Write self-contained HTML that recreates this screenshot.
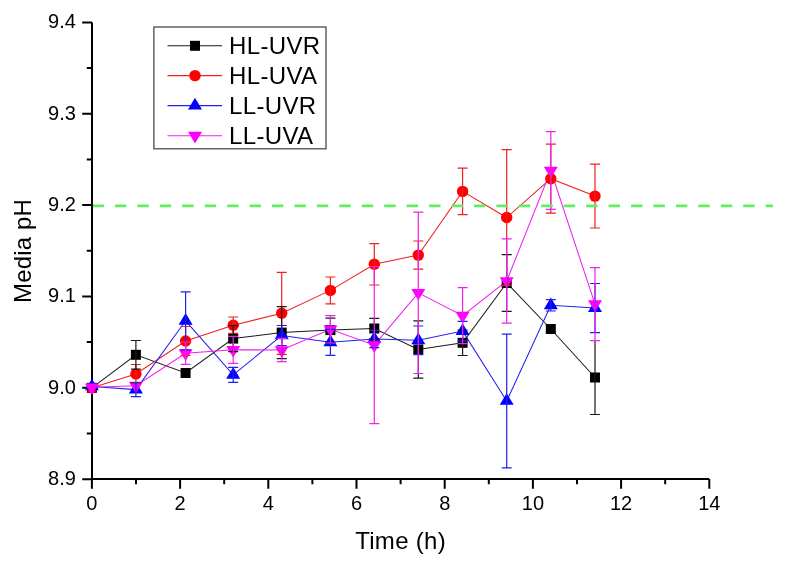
<!DOCTYPE html>
<html><head><meta charset="utf-8"><style>html,body{margin:0;padding:0;background:#fff;}svg{display:block;will-change:transform;font-family:"Liberation Sans",sans-serif;}</style></head>
<body><svg width="787" height="568" viewBox="0 0 787 568" font-family="Liberation Sans, sans-serif" font-size="20">
<rect width="787" height="568" fill="#fff"/>
<path d="M92.0 22.4V479.0H709.3" fill="none" stroke="#000" stroke-width="2" stroke-linejoin="round"/><path d="M82.2 22.4H92.0M86.8 68.1H92.0M82.2 113.8H92.0M86.8 159.4H92.0M82.2 205.1H92.0M86.8 250.8H92.0M82.2 296.5H92.0M86.8 342.1H92.0M82.2 387.8H92.0M86.8 433.5H92.0M82.2 479.2H92.0M91.9 479.0V488.8M136.0 479.0V484.2M180.1 479.0V488.8M224.2 479.0V484.2M268.3 479.0V488.8M312.4 479.0V484.2M356.5 479.0V488.8M400.6 479.0V484.2M444.7 479.0V488.8M488.8 479.0V484.2M532.9 479.0V488.8M577.0 479.0V484.2M621.1 479.0V488.8M665.2 479.0V484.2M709.3 479.0V488.8" fill="none" stroke="#000" stroke-width="2"/>
<polyline points="91.9,387.8 135.9,354.8 185.6,373.0 233.2,338.6 281.7,332.6 330.4,330.1 374.3,328.5 418.3,349.5 462.6,342.8 506.7,283.0 550.8,329.0 595.0,377.5" fill="none" stroke="#1a1a1a" stroke-width="1.05"/><polyline points="91.9,387.8 135.9,374.0 185.6,341.0 233.2,325.2 281.7,313.3 330.4,290.4 374.3,264.3 418.3,255.1 462.6,191.4 506.7,217.5 550.8,178.7 595.0,196.1" fill="none" stroke="#f02020" stroke-width="1.05"/><polyline points="91.9,386.5 135.9,389.6 185.6,320.8 233.2,374.8 281.7,335.5 330.4,342.3 374.3,339.0 418.3,340.3 462.6,331.1 506.7,401.0 550.8,305.3 595.0,308.1" fill="none" stroke="#2020f0" stroke-width="1.05"/><polyline points="91.9,387.3 135.9,385.7 185.6,353.2 233.2,349.8 281.7,350.0 330.4,329.3 374.3,345.2 418.3,292.8 462.6,315.7 506.7,281.0 550.8,170.5 595.0,304.1" fill="none" stroke="#f020f0" stroke-width="1.05"/>
<rect x="86.90" y="382.80" width="10" height="10" fill="#000000"/><rect x="130.90" y="349.80" width="10" height="10" fill="#000000"/><rect x="180.60" y="368.00" width="10" height="10" fill="#000000"/><rect x="228.20" y="333.60" width="10" height="10" fill="#000000"/><rect x="276.70" y="327.60" width="10" height="10" fill="#000000"/><rect x="325.40" y="325.10" width="10" height="10" fill="#000000"/><rect x="369.30" y="323.50" width="10" height="10" fill="#000000"/><rect x="413.30" y="344.50" width="10" height="10" fill="#000000"/><rect x="457.60" y="337.80" width="10" height="10" fill="#000000"/><rect x="501.70" y="278.00" width="10" height="10" fill="#000000"/><rect x="545.80" y="324.00" width="10" height="10" fill="#000000"/><rect x="590.00" y="372.50" width="10" height="10" fill="#000000"/><circle cx="91.90" cy="387.80" r="5.7" fill="#ff0000"/><circle cx="135.90" cy="374.00" r="5.7" fill="#ff0000"/><circle cx="185.60" cy="341.00" r="5.7" fill="#ff0000"/><circle cx="233.20" cy="325.20" r="5.7" fill="#ff0000"/><circle cx="281.70" cy="313.30" r="5.7" fill="#ff0000"/><circle cx="330.40" cy="290.40" r="5.7" fill="#ff0000"/><circle cx="374.30" cy="264.30" r="5.7" fill="#ff0000"/><circle cx="418.30" cy="255.10" r="5.7" fill="#ff0000"/><circle cx="462.60" cy="191.40" r="5.7" fill="#ff0000"/><circle cx="506.70" cy="217.50" r="5.7" fill="#ff0000"/><circle cx="550.80" cy="178.70" r="5.7" fill="#ff0000"/><circle cx="595.00" cy="196.10" r="5.7" fill="#ff0000"/><path d="M91.90 378.77L98.90 390.37L84.90 390.37Z" fill="#0000ff"/><path d="M135.90 381.87L142.90 393.47L128.90 393.47Z" fill="#0000ff"/><path d="M185.60 313.07L192.60 324.67L178.60 324.67Z" fill="#0000ff"/><path d="M233.20 367.07L240.20 378.67L226.20 378.67Z" fill="#0000ff"/><path d="M281.70 327.77L288.70 339.37L274.70 339.37Z" fill="#0000ff"/><path d="M330.40 334.57L337.40 346.17L323.40 346.17Z" fill="#0000ff"/><path d="M374.30 331.27L381.30 342.87L367.30 342.87Z" fill="#0000ff"/><path d="M418.30 332.57L425.30 344.17L411.30 344.17Z" fill="#0000ff"/><path d="M462.60 323.37L469.60 334.97L455.60 334.97Z" fill="#0000ff"/><path d="M506.70 393.27L513.70 404.87L499.70 404.87Z" fill="#0000ff"/><path d="M550.80 297.57L557.80 309.17L543.80 309.17Z" fill="#0000ff"/><path d="M595.00 300.37L602.00 311.97L588.00 311.97Z" fill="#0000ff"/><path d="M84.90 383.43L98.90 383.43L91.90 395.03Z" fill="#ff00ff"/><path d="M128.90 381.83L142.90 381.83L135.90 393.43Z" fill="#ff00ff"/><path d="M178.60 349.33L192.60 349.33L185.60 360.93Z" fill="#ff00ff"/><path d="M226.20 345.93L240.20 345.93L233.20 357.53Z" fill="#ff00ff"/><path d="M274.70 346.13L288.70 346.13L281.70 357.73Z" fill="#ff00ff"/><path d="M323.40 325.43L337.40 325.43L330.40 337.03Z" fill="#ff00ff"/><path d="M367.30 341.33L381.30 341.33L374.30 352.93Z" fill="#ff00ff"/><path d="M411.30 288.93L425.30 288.93L418.30 300.53Z" fill="#ff00ff"/><path d="M455.60 311.83L469.60 311.83L462.60 323.43Z" fill="#ff00ff"/><path d="M499.70 277.13L513.70 277.13L506.70 288.73Z" fill="#ff00ff"/><path d="M543.80 166.63L557.80 166.63L550.80 178.23Z" fill="#ff00ff"/><path d="M588.00 300.23L602.00 300.23L595.00 311.83Z" fill="#ff00ff"/>
<path d="M135.9 364.5V383.5M130.9 364.5h10M130.9 383.5h10M185.6 326.5V355.5M180.6 326.5h10M180.6 355.5h10M233.2 317.0V333.4M228.2 317.0h10M228.2 333.4h10M281.7 272.3V354.3M276.7 272.3h10M276.7 354.3h10M330.4 277.0V303.8M325.4 277.0h10M325.4 303.8h10M374.3 243.6V285.0M369.3 243.6h10M369.3 285.0h10M418.3 241.0V269.2M413.3 241.0h10M413.3 269.2h10M462.6 168.2V214.6M457.6 168.2h10M457.6 214.6h10M506.7 149.7V285.3M501.7 149.7h10M501.7 285.3h10M550.8 144.2V213.2M545.8 144.2h10M545.8 213.2h10M595.0 164.2V228.0M590.0 164.2h10M590.0 228.0h10" fill="none" stroke="#f02020" stroke-width="1.2"/><path d="M135.9 340.5V369.1M130.9 340.5h10M130.9 369.1h10M233.2 325.6V351.6M228.2 325.6h10M228.2 351.6h10M281.7 306.6V358.6M276.7 306.6h10M276.7 358.6h10M330.4 318.1V342.1M325.4 318.1h10M325.4 342.1h10M374.3 318.4V338.6M369.3 318.4h10M369.3 338.6h10M418.3 320.8V378.2M413.3 320.8h10M413.3 378.2h10M462.6 330.1V355.5M457.6 330.1h10M457.6 355.5h10M506.7 254.7V311.4M501.7 254.7h10M501.7 311.4h10M595.0 340.5V414.5M590.0 340.5h10M590.0 414.5h10" fill="none" stroke="#1a1a1a" stroke-width="1.2"/><path d="M135.9 382.6V396.6M130.9 382.6h10M130.9 396.6h10M185.6 291.8V349.8M180.6 291.8h10M180.6 349.8h10M233.2 367.3V382.3M228.2 367.3h10M228.2 382.3h10M281.7 325.5V345.5M276.7 325.5h10M276.7 345.5h10M330.4 329.3V355.3M325.4 329.3h10M325.4 355.3h10M374.3 330.4V347.6M369.3 330.4h10M369.3 347.6h10M418.3 326.0V354.6M413.3 326.0h10M413.3 354.6h10M462.6 321.4V340.8M457.6 321.4h10M457.6 340.8h10M506.7 334.1V467.9M501.7 334.1h10M501.7 467.9h10M550.8 299.6V311.0M545.8 299.6h10M545.8 311.0h10M595.0 283.5V332.7M590.0 283.5h10M590.0 332.7h10" fill="none" stroke="#2020f0" stroke-width="1.2"/><path d="M185.6 342.0V364.4M180.6 342.0h10M180.6 364.4h10M233.2 336.3V363.3M228.2 336.3h10M228.2 363.3h10M281.7 338.3V361.7M276.7 338.3h10M276.7 361.7h10M330.4 315.6V343.0M325.4 315.6h10M325.4 343.0h10M374.3 266.7V423.7M369.3 266.7h10M369.3 423.7h10M418.3 212.1V373.5M413.3 212.1h10M413.3 373.5h10M462.6 287.7V343.7M457.6 287.7h10M457.6 343.7h10M506.7 238.8V323.2M501.7 238.8h10M501.7 323.2h10M550.8 131.7V209.3M545.8 131.7h10M545.8 209.3h10M595.0 267.6V340.6M590.0 267.6h10M590.0 340.6h10" fill="none" stroke="#f020f0" stroke-width="1.2"/>
<path d="M93 205.9H773" stroke="#62ee62" stroke-width="2.6" stroke-dasharray="11.4 11.04" stroke-dashoffset="0.5" fill="none"/>
<text x="75.9" y="28.3" text-anchor="end">9.4</text><text x="75.9" y="119.7" text-anchor="end">9.3</text><text x="75.9" y="211.0" text-anchor="end">9.2</text><text x="75.9" y="302.4" text-anchor="end">9.1</text><text x="75.9" y="393.7" text-anchor="end">9.0</text><text x="75.9" y="485.1" text-anchor="end">8.9</text><text x="91.9" y="510.0" text-anchor="middle">0</text><text x="180.1" y="510.0" text-anchor="middle">2</text><text x="268.3" y="510.0" text-anchor="middle">4</text><text x="356.5" y="510.0" text-anchor="middle">6</text><text x="444.7" y="510.0" text-anchor="middle">8</text><text x="532.9" y="510.0" text-anchor="middle">10</text><text x="621.1" y="510.0" text-anchor="middle">12</text><text x="709.3" y="510.0" text-anchor="middle">14</text>
<rect x="153.9" y="27" width="172.1" height="121.8" fill="#fff" stroke="#3c3c3c" stroke-width="1.2"/><path d="M167.5 45.8H222" stroke="#1a1a1a" stroke-width="1.1"/><rect x="190.00" y="40.80" width="10" height="10" fill="#000000"/><text x="229" y="54.2" font-size="24" letter-spacing="0.35">HL-UVR</text><path d="M167.5 75.6H222" stroke="#f02020" stroke-width="1.1"/><circle cx="195.00" cy="75.60" r="5.7" fill="#ff0000"/><text x="229" y="84.0" font-size="24" letter-spacing="0.35">HL-UVA</text><path d="M167.5 105.6H222" stroke="#2020f0" stroke-width="1.1"/><path d="M195.00 97.87L202.00 109.47L188.00 109.47Z" fill="#0000ff"/><text x="229" y="114.0" font-size="24" letter-spacing="0.35">LL-UVR</text><path d="M167.5 135.7H222" stroke="#f020f0" stroke-width="1.1"/><path d="M188.00 131.83L202.00 131.83L195.00 143.43Z" fill="#ff00ff"/><text x="229" y="144.1" font-size="24" letter-spacing="0.35">LL-UVA</text>
<text x="400.6" y="548.7" text-anchor="middle" font-size="24" letter-spacing="0.3">Time (h)</text><text transform="translate(30.8 251) rotate(-90)" text-anchor="middle" font-size="24" letter-spacing="0.15">Media pH</text>
</svg></body></html>
